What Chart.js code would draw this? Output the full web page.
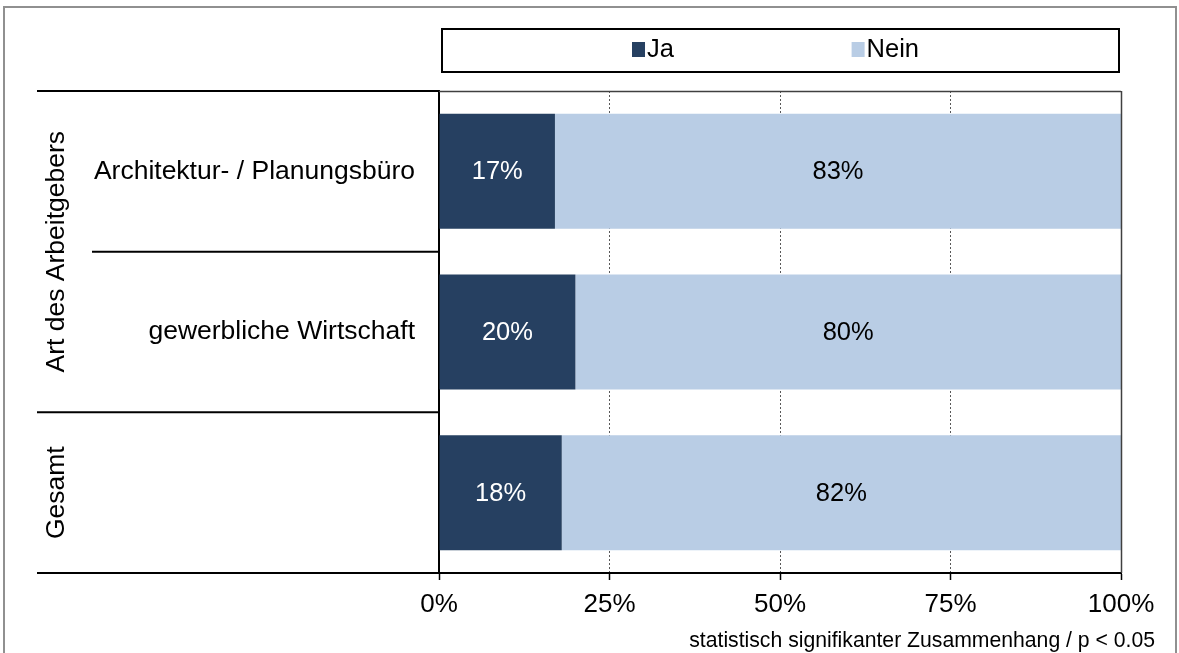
<!DOCTYPE html>
<html><head><meta charset="utf-8">
<script src="https://cdn.jsdelivr.net/npm/chart.js@4.4.0/dist/chart.umd.min.js"></script>
<style>html,body{margin:0;padding:0;background:#fff;} canvas{display:block;}</style>
</head><body>
<canvas id="c" width="1179" height="653"></canvas>
<script>
// ---- data ----
const categories = ["Architektur- / Planungsbüro", "gewerbliche Wirtschaft", "Gesamt"];
const categoryLabels = ["Architektur- / Planungsbüro", "gewerbliche Wirtschaft", ""];
const groupLabels = ["Art des Arbeitgebers", "Gesamt"];
const groupStart = [0, 2];
const groupEnd = [1, 2];
const seriesNames = ["Ja", "Nein"];
const jaValues = [17, 20, 18];
const neinValues = [83, 80, 82];
const xTickValues = [0, 25, 50, 75, 100];
const footnote = "statistisch signifikanter Zusammenhang / p < 0.05";

const FONT = "'Liberation Sans', Arial, Helvetica, sans-serif";
const COLORS = ["#264061", "#B9CDE5"];
const LABEL_COLORS = ["#ffffff", "#000000"];

const decor = {
  id: 'decor',
  afterDraw(chart) {
    const ctx = chart.ctx;
    const ca = chart.chartArea;
    const ys = chart.scales.y;
    ctx.save();
    // outer frame
    ctx.strokeStyle = '#909090';
    ctx.lineWidth = 2;
    ctx.strokeRect(4, 7, 1172, 700);

    // plot top + right border
    ctx.strokeStyle = '#404040';
    ctx.lineWidth = 1.5;
    ctx.beginPath();
    ctx.moveTo(ca.left, ca.top + 0.5); ctx.lineTo(ca.right, ca.top + 0.5);
    ctx.moveTo(ca.right + 0.5, ca.top); ctx.lineTo(ca.right + 0.5, ca.bottom);
    ctx.stroke();

    // legend box
    const lx = ca.left + 3, lw = ca.right - ca.left - 5;
    ctx.strokeStyle = '#000';
    ctx.lineWidth = 2;
    ctx.strokeRect(lx, 29, lw, 43);
    const w = ca.right - ca.left;
    const legendPos = [0.283, 0.605];
    ctx.font = `25.5px ${FONT}`;
    ctx.textBaseline = 'middle';
    ctx.textAlign = 'left';
    chart.data.datasets.forEach((ds, i) => {
      const x = ca.left + w * legendPos[i];
      ctx.fillStyle = ds.backgroundColor;
      ctx.fillRect(x, 42, 13, 15);
      ctx.fillStyle = '#000';
      ctx.fillText(ds.label, x + 15, 50);
    });

    // left table lines
    const boundaries = [];
    for (let i = 0; i < categories.length - 1; i++) {
      boundaries.push({ y: (ys.getPixelForValue(i) + ys.getPixelForValue(i + 1)) / 2, i });
    }
    ctx.strokeStyle = '#000';
    ctx.lineWidth = 2;
    const lineAt = (y, x0) => { ctx.beginPath(); ctx.moveTo(x0, y); ctx.lineTo(ca.left, y); ctx.stroke(); };
    lineAt(ca.top, 37);
    lineAt(ca.bottom, 37);
    boundaries.forEach(b => {
      const isGroupEnd = groupEnd.includes(b.i);
      lineAt(b.y, isGroupEnd ? 37 : 92);
    });

    // category labels
    ctx.fillStyle = '#000';
    ctx.font = `26.5px ${FONT}`;
    ctx.textAlign = 'right';
    ctx.textBaseline = 'middle';
    categoryLabels.forEach((t, i) => {
      if (t) ctx.fillText(t, 415, ys.getPixelForValue(i));
    });

    // group labels (rotated)
    groupLabels.forEach((t, g) => {
      const top = groupStart[g] === 0 ? ca.top : (ys.getPixelForValue(groupStart[g] - 1) + ys.getPixelForValue(groupStart[g])) / 2;
      const bot = groupEnd[g] === categories.length - 1 ? ca.bottom : (ys.getPixelForValue(groupEnd[g]) + ys.getPixelForValue(groupEnd[g] + 1)) / 2;
      ctx.save();
      ctx.translate(64, (top + bot) / 2);
      ctx.rotate(-Math.PI / 2);
      ctx.textAlign = 'center';
      ctx.textBaseline = 'alphabetic';
      ctx.fillText(t, 0, 0);
      ctx.restore();
    });

    // data labels
    ctx.font = `25.5px ${FONT}`;
    ctx.textAlign = 'center';
    ctx.textBaseline = 'middle';
    chart.data.datasets.forEach((ds, di) => {
      const meta = chart.getDatasetMeta(di);
      meta.data.forEach((el, i) => {
        ctx.fillStyle = LABEL_COLORS[di];
        ctx.fillText(ds.data[i] + '%', (el.x + el.base) / 2, el.y + 1);
      });
    });

    // footnote
    ctx.fillStyle = '#000';
    ctx.font = `21.2px ${FONT}`;
    ctx.textAlign = 'right';
    ctx.textBaseline = 'alphabetic';
    ctx.fillText(footnote, 1155, 647);
    ctx.restore();
  }
};

new Chart(document.getElementById('c').getContext('2d'), {
  type: 'bar',
  data: {
    labels: categories,
    datasets: [
      { label: seriesNames[0], data: jaValues, backgroundColor: COLORS[0] },
      { label: seriesNames[1], data: neinValues, backgroundColor: COLORS[1] }
    ]
  },
  options: {
    indexAxis: 'y',
    responsive: false,
    animation: false,
    layout: { padding: { left: 439, right: 58, top: 91, bottom: 0 } },
    plugins: { legend: { display: false }, tooltip: { enabled: false } },
    datasets: { bar: { categoryPercentage: 1, barPercentage: 0.716, borderWidth: 0 } },
    scales: {
      x: {
        stacked: true, min: 0, max: 100,
        afterBuildTicks(s) { s.ticks = xTickValues.map(v => ({ value: v })); },
        ticks: { callback: v => v + '%', font: { family: FONT, size: 26 }, color: '#000', padding: 9, maxRotation: 0 },
        grid: { color: '#595959', lineWidth: 1, tickLength: 7, tickColor: '#000', tickWidth: 1.5 },
        border: { display: true, color: '#000', width: 2, dash: [2, 2] },
        afterFit(s) { s.height = 80; }
      },
      y: {
        stacked: true,
        ticks: { display: false },
        grid: { display: false },
        border: { display: true, color: '#000', width: 2 },
        afterFit(s) { s.width = 0; }
      }
    }
  },
  plugins: [decor]
});
</script>
</body></html>
